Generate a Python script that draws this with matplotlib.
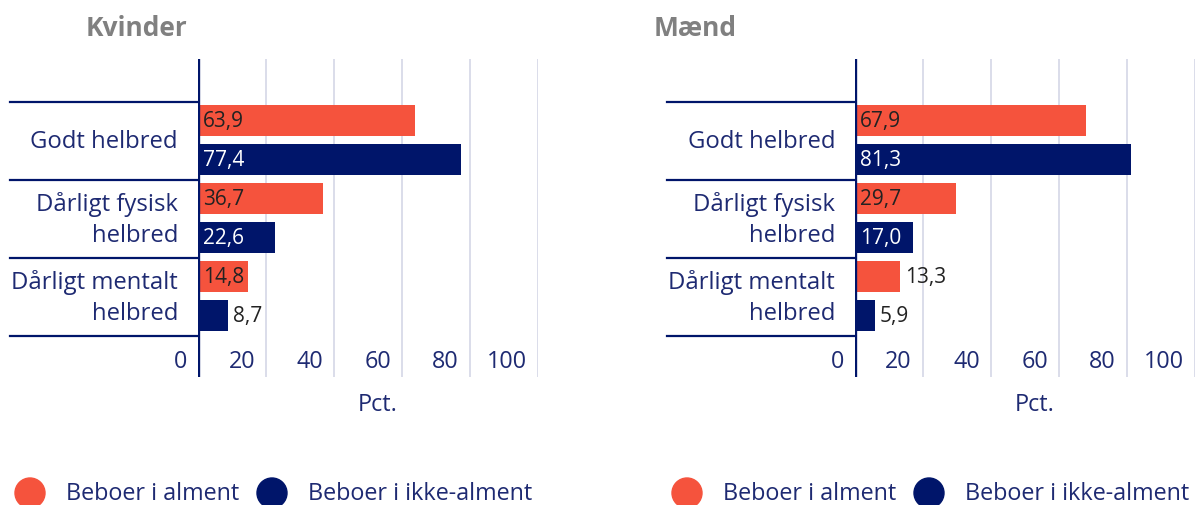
import matplotlib
matplotlib.use("Agg")
import matplotlib.pyplot as plt
from matplotlib import transforms as mtrans

plt.rcParams['font.family'] = ['Open Sans', 'DejaVu Sans']

categories = ["Godt helbred", "Dårligt fysisk\nhelbred", "Dårligt mentalt\nhelbred"]
panels = ["Kvinder", "Mænd"]
alment = {"Kvinder": [63.9, 36.7, 14.8], "Mænd": [67.9, 29.7, 13.3]}
ikke_alment = {"Kvinder": [77.4, 22.6, 8.7], "Mænd": [81.3, 17.0, 5.9]}
xticks = [0, 20, 40, 60, 80, 100]
series_names = ["Beboer i alment", "Beboer i ikke-alment"]

ORANGE = "#F5533D"
NAVY = "#00156A"
TEXT = "#1E2A72"
GRID = "#D4D7E6"
DARK = "#222222"

W, H = 1195, 506
fig = plt.figure(figsize=(W / 100, H / 100), dpi=100)

def fx(px):
    return px / W

def fy(py):
    return 1 - py / H

axis_px = [198, 855]
title_px = [86, 654]
top_px, bot_px = 60, 378
width_px = 340

for p, name in enumerate(panels):
    ax0 = axis_px[p]
    ax = fig.add_axes([fx(ax0), fy(bot_px), width_px / W, (bot_px - top_px) / H])
    ax.set_xlim(0, 100)
    ax.set_ylim(3.03, -1.05)
    for s in ax.spines.values():
        s.set_visible(False)
    ax.set_xticks([])
    ax.set_yticks([])
    ax.patch.set_alpha(0)

    for t in xticks[1:]:
        ax.axvline(t, color=GRID, lw=1.2, zorder=0)
    ax.axvline(0, color=NAVY, lw=2.4, zorder=3)

    ytr = ax.get_yaxis_transform()
    for yb in [-0.5, 0.5, 1.5, 2.5]:
        ax.plot([-0.553, 0], [yb, yb], color=NAVY, lw=1.6, transform=ytr, clip_on=False, zorder=3)

    ys = list(range(len(categories)))
    a = alment[name]
    b = ikke_alment[name]
    off_a, off_b, h = -0.26, 0.24, 0.39
    ax.barh([y + off_a for y in ys], a, height=h, color=ORANGE, zorder=2)
    ax.barh([y + off_b for y in ys], b, height=h, color=NAVY, zorder=2)

    inside = mtrans.offset_copy(ax.transData, fig=fig, x=5, y=0, units='dots')
    for y, v in zip(ys, a):
        lab = f"{v:.1f}".replace(".", ",")
        xv = 0 if v > 14 else v
        ax.text(xv, y + off_a, lab, transform=inside, ha='left', va='center',
                fontsize=15, color=DARK, zorder=4)
    for y, v in zip(ys, b):
        lab = f"{v:.1f}".replace(".", ",")
        xv = 0 if v > 14 else v
        col = "white" if v > 14 else DARK
        ax.text(xv, y + off_b, lab, transform=inside, ha='left', va='center',
                fontsize=15, color=col, zorder=4)

    # category labels
    lab_tr = mtrans.offset_copy(ytr, fig=fig, x=-20, y=0, units='dots')
    for y, c in zip(ys, categories):
        ax.text(0, y, c, transform=lab_tr, ha='right', va='center', fontsize=17.2,
                color=TEXT, linespacing=1.4)

    # x tick labels
    tick_tr = mtrans.offset_copy(ax.transData, fig=fig, x=-11, y=0, units='dots')
    for t in xticks:
        ax.text(t, 2.82, str(t), transform=tick_tr, ha='right', va='center',
                fontsize=16.8, color=TEXT)
    fig.text(fx(ax0 + 180), fy(405), "Pct.", ha='center', va='center', fontsize=16.8, color=TEXT)

    fig.text(fx(title_px[p]), fy(28), name, ha='left', va='center', fontsize=19,
             fontweight='bold', color="#808080")

    # legend
    lx = ax0 - 168
    for i, (col, sname) in enumerate(zip([ORANGE, NAVY], series_names)):
        cx = lx + i * 242
        fig.patches.append(matplotlib.patches.Ellipse((fx(cx), fy(494)), 30 / W, 30 / H,
                                                      transform=fig.transFigure, color=col))
        fig.text(fx(cx + 36), fy(494), sname, ha='left', va='center', fontsize=16.8, color=TEXT)

fig.savefig("out.png", dpi=100)
